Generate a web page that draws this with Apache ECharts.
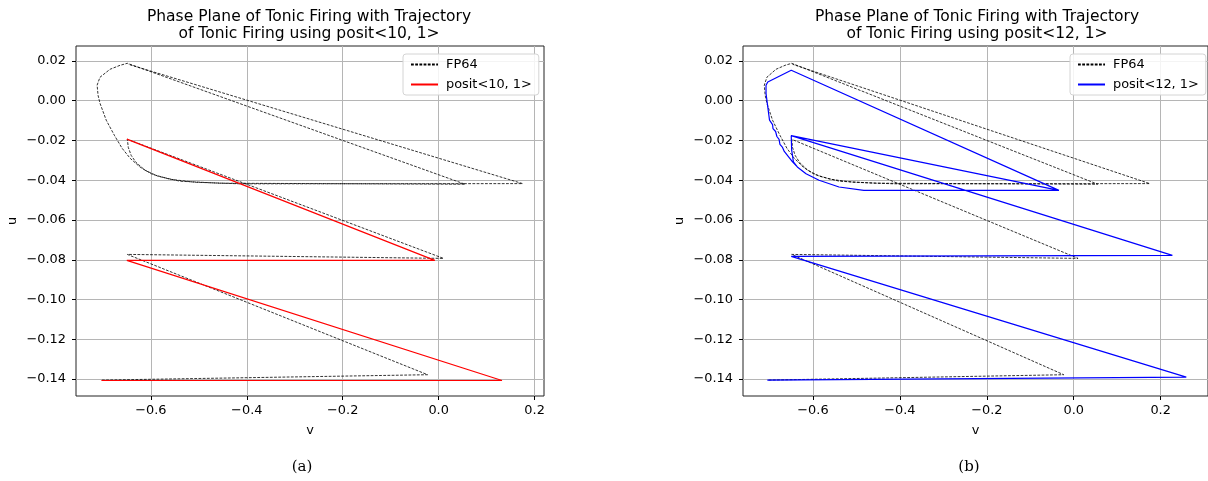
<!DOCTYPE html>
<html>
<head>
	<meta charset="utf-8" />
	<title>Phase Plane</title>
	<script src="https://cdn.jsdelivr.net/npm/echarts@6/dist/echarts.min.js"></script>
	<style>
		html, body {margin:0;padding:0;background:#fff;}
		#chart {width:1208px;height:481px;}
	</style>
</head>
<body>
	<div id="chart"></div>
	<script>
		// FP64 reference trajectory (same in both panels)
		var fp64V = [-0.702, -0.023, -0.649, 0.010, -0.649, -0.647, -0.641, -0.631, -0.612, -0.585, -0.539, -0.456, 0.055,
			-0.649, -0.664, -0.685, -0.706, -0.712, -0.710, -0.706, -0.693, -0.676, -0.660, -0.643, -0.622, -0.597, -0.560, -0.508, -0.414, 0.175, -0.647];
		var fp64U = [-0.1405, -0.1378, -0.0773, -0.0793, -0.0194, -0.0235, -0.0275, -0.0310, -0.0350, -0.0380, -0.0405, -0.0415, -0.0420,
			0.0188, 0.0178, 0.0158, 0.0118, 0.0078, 0.0027, -0.0013, -0.0098, -0.0174, -0.0239, -0.0290, -0.0335, -0.0370, -0.0395, -0.0410, -0.0418, -0.0417, 0.0183];

		// posit<10, 1>
		var p10V = [-0.703, 0.132, -0.650, -0.008, -0.650];
		var p10U = [-0.1407, -0.1407, -0.0803, -0.0803, -0.0193];

		// posit<12, 1>
		var p12V = [-0.705, 0.259, -0.650, 0.227, -0.650, -0.649, -0.645, -0.636, -0.616, -0.586, -0.540, -0.483, -0.034,
			-0.650, -0.704, -0.708, -0.708, -0.704, -0.700, -0.697, -0.693, -0.692, -0.686, -0.683, -0.678, -0.676, -0.670, -0.666,
			-0.647, -0.636, -0.616, -0.586, -0.540, -0.483, -0.034, -0.650];
		var p12U = [-0.1405, -0.1390, -0.0783, -0.0778, -0.0176, -0.0249, -0.0308, -0.0333, -0.0367, -0.0400, -0.0434, -0.0451, -0.0451,
			0.0153, 0.0094, 0.0078, 0.0036, -0.0031, -0.0098, -0.0105, -0.0120, -0.0140, -0.0155, -0.0180, -0.0195, -0.0220, -0.0235, -0.0255,
			-0.0308, -0.0333, -0.0367, -0.0400, -0.0434, -0.0451, -0.0451, -0.0176];

		var xTicks = [-0.6, -0.4, -0.2, 0.0, 0.2];
		var yTicks = [-0.14, -0.12, -0.10, -0.08, -0.06, -0.04, -0.02, 0.00, 0.02];

		var titles = [
			'Phase Plane of Tonic Firing with Trajectory\nof Tonic Firing using posit<10, 1>',
			'Phase Plane of Tonic Firing with Trajectory\nof Tonic Firing using posit<12, 1>'
		];
		var captions = ['(a)', '(b)'];

		function pairs(xs, ys) {
			return xs.map((x, i) => [x, ys[i]]);
		}

		function fmt(v, d) {
			return (v < 0 ? '\u2212' : '') + Math.abs(v).toFixed(d);
		}

		var font = 'DejaVu Sans';
		var fs = 12.9;

		function xAxisOf(idx, min, max) {
			return {
				type: 'value', gridIndex: idx, min: min, max: max,
				name: 'v', nameLocation: 'middle', nameGap: 28,
				nameTextStyle: {fontFamily: font, fontSize: fs, color: '#000'},
				axisLine: {show: false, onZero: false},
				axisTick: {show: true, length: 4, customValues: xTicks, lineStyle: {color: '#000', width: 1}},
				axisLabel: {customValues: xTicks, formatter: v => fmt(v, 1), fontFamily: font, fontSize: fs, color: '#000', margin: 8},
				splitLine: {show: true, lineStyle: {color: '#b5b5b5', width: 1}}
			};
		}

		function yAxisOf(idx) {
			return {
				type: 'value', gridIndex: idx, min: -0.1485, max: 0.0275,
				name: 'u', nameLocation: 'middle', nameGap: 57, nameRotate: 90,
				nameTextStyle: {fontFamily: font, fontSize: fs, color: '#000'},
				axisLine: {show: false, onZero: false},
				axisTick: {show: true, length: 4, customValues: yTicks, lineStyle: {color: '#000', width: 1}},
				axisLabel: {customValues: yTicks, formatter: v => fmt(v, 2), fontFamily: font, fontSize: fs, color: '#000', margin: 10},
				splitLine: {show: true, lineStyle: {color: '#b5b5b5', width: 1}}
			};
		}

		function legendOf(left, names) {
			return {
				orient: 'vertical', left: left, top: 54,
				data: names,
				itemWidth: 27, itemHeight: 13, itemGap: 7,
				padding: [4, 7, 4, 7],
				borderColor: '#d4d4d4', borderWidth: 1, borderRadius: 3,
				backgroundColor: 'rgba(255,255,255,0.85)',
				itemStyle: {opacity: 0},
				textStyle: {fontFamily: font, fontSize: fs, color: '#000', padding: [0, 0, 0, 3]}
			};
		}

		function lineSeries(name, data, idx, color, dashed) {
			return {
				name: name, type: 'line', xAxisIndex: idx, yAxisIndex: idx,
				data: data, symbol: 'none', showSymbol: false,
				lineStyle: dashed ? {color: color, width: 0.8, type: [2.8, 1.4]} : {color: color, width: 1.2},
				itemStyle: {color: color},
				z: dashed ? 2 : 3
			};
		}

		var chart = echarts.init(document.getElementById('chart'));

		var option = {
			animation: false,
			backgroundColor: '#fff',
			grid: [
				{left: 76, top: 46, width: 468, height: 350, show: true, borderColor: '#222', borderWidth: 1, backgroundColor: 'transparent'},
				{left: 743, top: 46, width: 469, height: 350, show: true, borderColor: '#222', borderWidth: 1, backgroundColor: 'transparent'}
			],
			xAxis: [xAxisOf(0, -0.756, 0.2196), xAxisOf(1, -0.761, 0.309)],
			yAxis: [yAxisOf(0), yAxisOf(1)],
			legend: [
				legendOf(403, ['FP64', 'posit<10, 1>']),
				legendOf(1070, ['FP64 ', 'posit<12, 1>'])
			],
			series: [
				lineSeries('FP64', pairs(fp64V, fp64U), 0, '#000', true),
				lineSeries('posit<10, 1>', pairs(p10V, p10U), 0, '#ff0000', false),
				lineSeries('FP64 ', pairs(fp64V, fp64U), 1, '#000', true),
				lineSeries('posit<12, 1>', pairs(p12V, p12U), 1, '#0000ff', false)
			],
			graphic: [
				{type: 'text', x: 309, y: 8, style: {text: titles[0], textAlign: 'center', font: '15.5px "DejaVu Sans"', fill: '#000', lineHeight: 17.5}},
				{type: 'text', x: 977, y: 8, style: {text: titles[1], textAlign: 'center', font: '15.5px "DejaVu Sans"', fill: '#000', lineHeight: 17.5}},
				{type: 'text', x: 302, y: 460, style: {text: captions[0], textAlign: 'center', font: '15px "DejaVu Serif"', fill: '#000'}},
				{type: 'text', x: 969, y: 460, style: {text: captions[1], textAlign: 'center', font: '15px "DejaVu Serif"', fill: '#000'}}
			]
		};

		chart.setOption(option);
	</script>
</body>
</html>
